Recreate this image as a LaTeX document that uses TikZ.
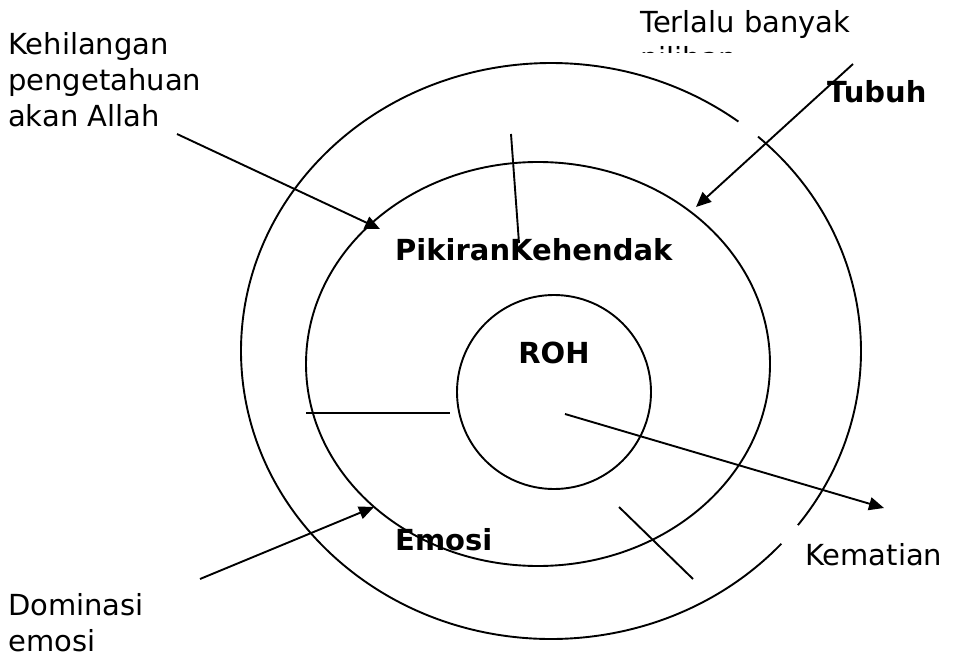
\documentclass[tikz,border=0pt]{standalone}
\usepackage{fontspec}
\setmainfont{DejaVu Sans}
\usepackage{tikz}
\usetikzlibrary{arrows.meta, positioning}

\begin{document}
\begin{tikzpicture}[x=1pt, y=-1pt,
		teks/.style={font=\fontsize{29}{36}\selectfont, inner sep=0pt, anchor=base west, align=left},%
		tebal/.style={teks, font=\fontsize{29}{36}\selectfont\bfseries},%
		garis/.style={line width=1.9pt},
		panah/.style={garis, -{Triangle[length=15pt, width=13pt]}},%
		]
	\useasboundingbox (0,0) rectangle (953,655);
	% rings
	\draw[garis] (551,351) ++(-48.1:310 and 288) arc[start angle=-48.1, end angle=37.2, x radius=310, y radius=288];
	\draw[garis] (551,351) ++(42:310 and 288) arc[start angle=42, end angle=307.2, x radius=310, y radius=288];
	\draw[garis] (538,364) ellipse [x radius=232, y radius=202];
	\draw[garis] (554,392) circle [radius=97];
	% labels (base = last line)
	\node[teks] (kehilangan) at (8,127) {Kehilangan\\pengetahuan\\akan Allah};
	\begin{scope}
		\clip (600,0) rectangle (953,53);
		\node[teks] (terlalu) at (640,69) {Terlalu banyak\\pilihan};
	\end{scope}
	\node[tebal] (tubuh) at (827,103) {Tubuh};
	\node[tebal] (pikiran) at (395,261) {PikiranKehendak};
	\node[tebal, anchor=base] (roh) at (554,363) {ROH};
	\node[tebal] (emosi) at (395,550) {Emosi};
	\node[teks] (kematian) at (805,565) {Kematian};
	\node[teks] (dominasi) at (8,651) {Dominasi\\emosi};
	% connectors
	\coordinate (k1) at (177,134); \coordinate (k2) at (380,229);
	\coordinate (w1) at (511,134); \coordinate (w2) at (519,243);
	\coordinate (t1) at (853,64);  \coordinate (t2) at (696,207);
	\coordinate (h1) at (306,413); \coordinate (h2) at (450,413);
	\coordinate (m1) at (565,414); \coordinate (m2) at (884,508);
	\coordinate (s1) at (619,507); \coordinate (s2) at (693,579);
	\coordinate (d1) at (200,579); \coordinate (d2) at (374,507);
	\draw[panah] (k1) -- (k2);
	\draw[garis] (w1) -- (w2);
	\draw[panah] (t1) -- (t2);
	\draw[garis] (h1) -- (h2);
	\draw[panah] (m1) -- (m2);
	\draw[garis] (s1) -- (s2);
	\draw[panah] (d1) -- (d2);
\end{tikzpicture}
\end{document}
